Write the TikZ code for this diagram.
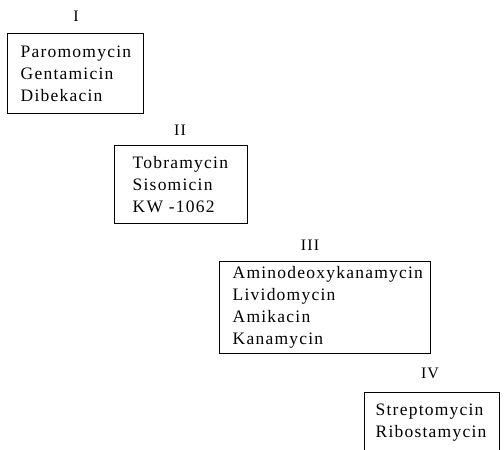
\documentclass[tikz,border=0pt]{standalone}
\usepackage{fontspec}
\setmainfont{Liberation Serif}[LetterSpace=7]
\usetikzlibrary{positioning}
\tikzset{groupbox/.style={draw, line width=1.4pt, anchor=north west,
           align=left, inner ysep=0pt, font=\fontsize{17.5}{22}\selectfont},
         grouplabel/.style={inner sep=0pt, font=\fontsize{16}{16}\selectfont}}

\begin{document}
\begin{tikzpicture}[x=1pt,y=-1pt]
	\useasboundingbox (0,0) rectangle (504,450);
	\clip (0,0) rectangle (504,450);
	% group I
	\node[grouplabel] (l1) at (76,16) {I};
	\node[groupbox, inner xsep=13pt, text width=110pt, minimum height=80pt]
	  (g1) at (7,33) {Paromomycin\\ Gentamicin\\ Dibekacin};
	% group II
	\node[grouplabel] (l2) at (180,130) {II};
	\node[groupbox, inner xsep=18pt, text width=97pt, minimum height=78pt]
	  (g2) at (114,145) {Tobramycin\\ Sisomicin\\ KW -1062};
	% group III
	\node[grouplabel] (l3) at (310,245) {III};
	\node[groupbox, inner xsep=13pt, text width=185pt, minimum height=92pt]
	  (g3) at (219,261) {Aminodeoxykanamycin\\ Lividomycin\\ Amikacin\\ Kanamycin};
	% group IV
	\node[grouplabel] (l4) at (430,373) {IV};
	\node[groupbox, inner xsep=11pt, text width=113pt, minimum height=60pt]
	  (g4) at (364,392) {Streptomycin\\ Ribostamycin};
\end{tikzpicture}
\end{document}
